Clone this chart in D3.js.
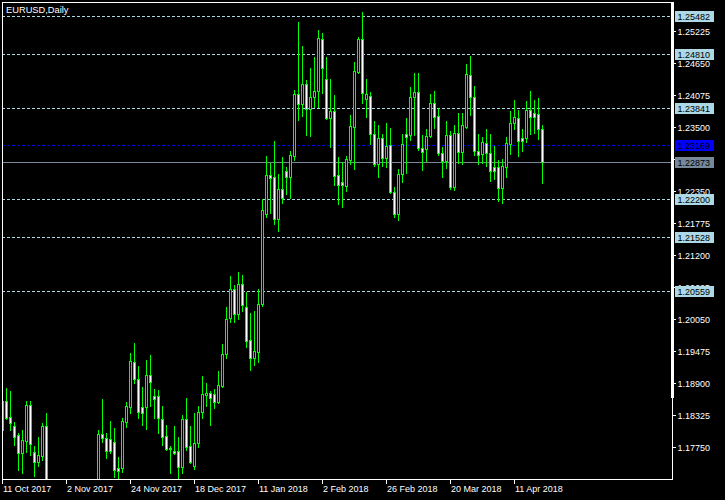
<!DOCTYPE html>
<html><head><meta charset="utf-8">
<script src="https://cdn.jsdelivr.net/npm/d3@7/dist/d3.min.js"></script>
<style>html,body{margin:0;padding:0;background:#000;}svg{display:block;}</style>
</head><body>
<svg id="chart" width="725" height="500"></svg>
<script>
const symbolTitle = "EURUSD,Daily";
const open = [1.18058,1.18578,1.18291,1.18130,1.17968,1.17645,1.17860,1.18506,1.17663,1.17484,1.17591,1.18130,1.1654,1.1607,1.1645,1.1646,1.1620,1.1656,1.1608,1.1610,1.1595,1.1590,1.1650,1.1665,1.1663,1.17986,1.17914,1.17896,1.17843,1.17376,1.17376,1.18201,1.18471,1.19278,1.18973,1.18471,1.18471,1.19045,1.18668,1.18668,1.18255,1.17950,1.17717,1.17681,1.17681,1.17394,1.18255,1.17771,1.17412,1.17825,1.18381,1.18686,1.18722,1.18704,1.18560,1.18847,1.19421,1.20067,1.20587,1.20139,1.20677,1.20265,1.19672,1.19350,1.19457,1.20318,1.21933,1.22633,1.22597,1.21843,1.22381,1.22704,1.22597,1.22973,1.24086,1.23906,1.24265,1.23817,1.24032,1.24140,1.25072,1.24355,1.23655,1.23781,1.22633,1.22507,1.22435,1.22902,1.23494,1.24480,1.25072,1.23996,1.24050,1.23368,1.22830,1.23296,1.22938,1.23171,1.22328,1.21933,1.22651,1.23368,1.23350,1.24032,1.24122,1.23117,1.23099,1.23332,1.23924,1.23691,1.23027,1.22884,1.23350,1.22417,1.23386,1.23045,1.23494,1.24427,1.24032,1.23063,1.23009,1.23207,1.23027,1.22776,1.22776,1.22399,1.22776,1.23189,1.23565,1.23655,1.23296,1.23296,1.23799,1.23745,1.23727,1.23458];
const high = [1.18614,1.18811,1.18758,1.18201,1.18004,1.18058,1.18578,1.18578,1.17771,1.17932,1.18183,1.18363,1.1668,1.1650,1.1669,1.1669,1.1688,1.1685,1.1611,1.1616,1.1609,1.1652,1.1667,1.1680,1.18058,1.18614,1.18004,1.18219,1.18094,1.17573,1.18273,1.18560,1.19439,1.19619,1.19206,1.18829,1.19314,1.19403,1.18793,1.18775,1.18488,1.18148,1.17771,1.18130,1.17932,1.18327,1.18632,1.18130,1.18363,1.18488,1.19027,1.18901,1.18758,1.18793,1.19116,1.19601,1.20265,1.20821,1.20659,1.20892,1.20839,1.20534,1.20157,1.20193,1.20587,1.22202,1.22973,1.22848,1.23242,1.22651,1.22955,1.22776,1.23063,1.24157,1.25377,1.24947,1.24337,1.24552,1.24749,1.25234,1.25180,1.24749,1.24355,1.24068,1.22955,1.22866,1.22973,1.23709,1.24660,1.25108,1.25557,1.24355,1.24122,1.23601,1.23530,1.23368,1.23565,1.23476,1.22417,1.22740,1.23368,1.23655,1.24211,1.24462,1.24462,1.23350,1.23458,1.24086,1.24140,1.23835,1.23135,1.23601,1.23422,1.23530,1.23745,1.23745,1.24624,1.24767,1.24229,1.23368,1.23314,1.23458,1.23368,1.23153,1.22902,1.22920,1.23314,1.23781,1.23978,1.23799,1.23458,1.23960,1.24140,1.23978,1.24014,1.23530];
const low = [1.18022,1.18255,1.18058,1.17789,1.17340,1.17286,1.17663,1.17609,1.17233,1.17412,1.17520,1.1640,1.1575,1.1596,1.1630,1.1613,1.1606,1.1604,1.1554,1.1556,1.1575,1.1582,1.1620,1.1630,1.1655,1.17843,1.17556,1.17645,1.17215,1.1718,1.17304,1.18112,1.18363,1.18901,1.18273,1.18148,1.18076,1.18488,1.18273,1.18004,1.17789,1.17699,1.17286,1.17627,1.1715,1.17286,1.17699,1.17466,1.17358,1.17753,1.18273,1.18488,1.18148,1.18453,1.18542,1.18829,1.19350,1.19995,1.19995,1.20049,1.20193,1.19547,1.19134,1.19224,1.19278,1.20282,1.21879,1.21951,1.21753,1.21628,1.22130,1.22292,1.22220,1.22902,1.23619,1.23691,1.23350,1.23332,1.23853,1.23853,1.24104,1.23637,1.23135,1.22453,1.22112,1.22059,1.22346,1.22830,1.22740,1.24462,1.23924,1.23673,1.23189,1.22794,1.22597,1.22794,1.22776,1.22310,1.21879,1.21825,1.22513,1.22668,1.23260,1.23350,1.23081,1.22722,1.22884,1.23314,1.23476,1.22991,1.22597,1.22758,1.22381,1.22363,1.22848,1.22830,1.23476,1.23709,1.22991,1.22830,1.22848,1.22794,1.22525,1.22561,1.22166,1.22130,1.22597,1.23009,1.23458,1.22973,1.23063,1.23225,1.23368,1.23386,1.23278,1.22495];
const close = [1.18578,1.18273,1.18183,1.17932,1.17645,1.17878,1.18506,1.17807,1.17484,1.17609,1.18130,1.1654,1.1607,1.1645,1.1646,1.1620,1.1656,1.1608,1.1610,1.1595,1.1590,1.1650,1.1665,1.1663,1.17986,1.17914,1.17681,1.17681,1.17340,1.17322,1.18219,1.18488,1.19296,1.18973,1.18381,1.18363,1.19045,1.18919,1.18614,1.18273,1.17932,1.17717,1.17735,1.17645,1.17394,1.18255,1.17753,1.17484,1.17825,1.18381,1.18704,1.18722,1.18632,1.18560,1.18865,1.19421,1.20049,1.20587,1.20139,1.20677,1.20300,1.19654,1.19350,1.19475,1.20318,1.22005,1.22633,1.22579,1.21843,1.22381,1.22220,1.22597,1.22991,1.24086,1.23906,1.24265,1.23817,1.24032,1.24140,1.25090,1.24552,1.23655,1.23781,1.22615,1.22453,1.22453,1.22920,1.23512,1.24498,1.25072,1.24104,1.24086,1.23368,1.22830,1.23296,1.22938,1.23153,1.22328,1.21933,1.22651,1.23189,1.23314,1.24032,1.24122,1.23117,1.23045,1.23332,1.23924,1.23673,1.23027,1.22884,1.23350,1.22417,1.23386,1.23045,1.23530,1.24445,1.24032,1.23063,1.22991,1.23225,1.23027,1.22704,1.22704,1.22399,1.22794,1.23207,1.23565,1.23673,1.23242,1.23242,1.23799,1.23673,1.23673,1.23458,1.22873];

const dateTickIndex = [0,16,32,48,64,80,96,112,128];
const dateTickLabels = ["11 Oct 2017","2 Nov 2017","24 Nov 2017","18 Dec 2017","11 Jan 2018","2 Feb 2018","26 Feb 2018","20 Mar 2018","11 Apr 2018"];
const priceTicks = [1.25225,1.24650,1.24075,1.23500,1.22925,1.22350,1.21775,1.21200,1.20625,1.20050,1.19475,1.18900,1.18325,1.17750];
const levelLines = [1.25482,1.24810,1.23841,1.22200,1.21528,1.20559];
const alertLevel = 1.23169;
const bidLevel = 1.22873;

const svg = d3.select("#chart");
const FONT = "'Liberation Sans', Arial, sans-serif";
const L = 2, T = 2, R = 672, B = 479;

const x = d3.scaleLinear().domain([0, 135]).range([2, 542]);
const y = d3.scaleLinear().domain([1.25225, 1.17750]).range([30.5, 447.2]);
const py = v => Math.round(y(v));

svg.append("rect").attr("width",725).attr("height",500).attr("fill","#000");

svg.append("defs").append("clipPath").attr("id","plotClip")
  .append("rect").attr("x",L+1).attr("y",T+1).attr("width",R-L-1).attr("height",B-T-1);

const plot = svg.append("g").attr("clip-path","url(#plotClip)").attr("shape-rendering","crispEdges");

// level lines
plot.selectAll("line.lvl").data(levelLines).join("line")
  .attr("x1",L).attr("x2",R).attr("y1",d=>py(d)+0.5).attr("y2",d=>py(d)+0.5)
  .attr("stroke","#add8e6").attr("stroke-width",1).attr("stroke-dasharray","3,2");
plot.append("line").attr("x1",L).attr("x2",R).attr("y1",py(alertLevel)+0.5).attr("y2",py(alertLevel)+0.5)
  .attr("stroke","#0000ff").attr("stroke-dasharray","3,2");
plot.append("line").attr("x1",L).attr("x2",R).attr("y1",py(bidLevel)+0.5).attr("y2",py(bidLevel)+0.5)
  .attr("stroke","#778899");

// candles
const idx = d3.range(open.length);
const g = plot.selectAll("g.c").data(idx).join("g");
g.append("line")
  .attr("x1",i=>Math.round(x(i))+0.5).attr("x2",i=>Math.round(x(i))+0.5)
  .attr("y1",i=>py(high[i])).attr("y2",i=>py(low[i])+1)
  .attr("stroke","#00ff00");
g.append("rect")
  .attr("x",i=>Math.round(x(i))-0.5).attr("width",2)
  .attr("y",i=>py(Math.max(open[i],close[i]))+0.5)
  .attr("height",i=>Math.max(0, py(Math.min(open[i],close[i])) - py(Math.max(open[i],close[i]))))
  .attr("fill",i=>close[i] >= open[i] ? "#000" : "#fff")
  .attr("stroke","#00ff00").attr("stroke-width",1);

// frame
const fr = svg.append("g").attr("shape-rendering","crispEdges");
fr.append("rect").attr("x",L+0.5).attr("y",T+0.5).attr("width",R-L).attr("height",B-T)
  .attr("fill","none").attr("stroke","#fff");
fr.append("rect").attr("x",671).attr("y",T).attr("width",3).attr("height",396).attr("fill","#fff");

// price axis ticks and labels
const pa = svg.append("g");
pa.selectAll("line").data(priceTicks).join("line").attr("shape-rendering","crispEdges")
  .attr("x1",673).attr("x2",676).attr("y1",d=>py(d)+0.5).attr("y2",d=>py(d)+0.5).attr("stroke","#fff");
pa.selectAll("text").data(priceTicks).join("text")
  .attr("x",677.5).attr("y",d=>py(d)+4).attr("fill","#fff")
  .attr("font-family",FONT).attr("font-size",9).text(d=>d.toFixed(5));

// date axis
const da = svg.append("g");
da.selectAll("line").data(dateTickIndex).join("line").attr("shape-rendering","crispEdges")
  .attr("x1",i=>Math.round(x(i))+0.5).attr("x2",i=>Math.round(x(i))+0.5).attr("y1",480).attr("y2",484)
  .attr("stroke","#fff");
da.selectAll("text").data(dateTickIndex).join("text")
  .attr("x",i=>Math.round(x(i))+1).attr("y",492).attr("fill","#fff")
  .attr("font-family",FONT).attr("font-size",9).text((d,j)=>dateTickLabels[j]);

// level labels
function tag(v, bg, fg){
  const yy = py(v);
  svg.append("rect").attr("x",675).attr("y",yy-5).attr("width",39).attr("height",11).attr("fill",bg);
  svg.append("text").attr("x",677.5).attr("y",yy+4).attr("fill",fg)
    .attr("font-family",FONT).attr("font-size",9).text(v.toFixed(5));
}
levelLines.forEach(v=>tag(v,"#add8e6","#000"));
tag(alertLevel,"#0000ff","#000");
tag(bidLevel,"#778899","#000");

svg.append("text").attr("x",6).attr("y",13).attr("fill","#fff")
  .attr("font-family",FONT).attr("font-size",9.3).text(symbolTitle);
</script>
</body></html>
